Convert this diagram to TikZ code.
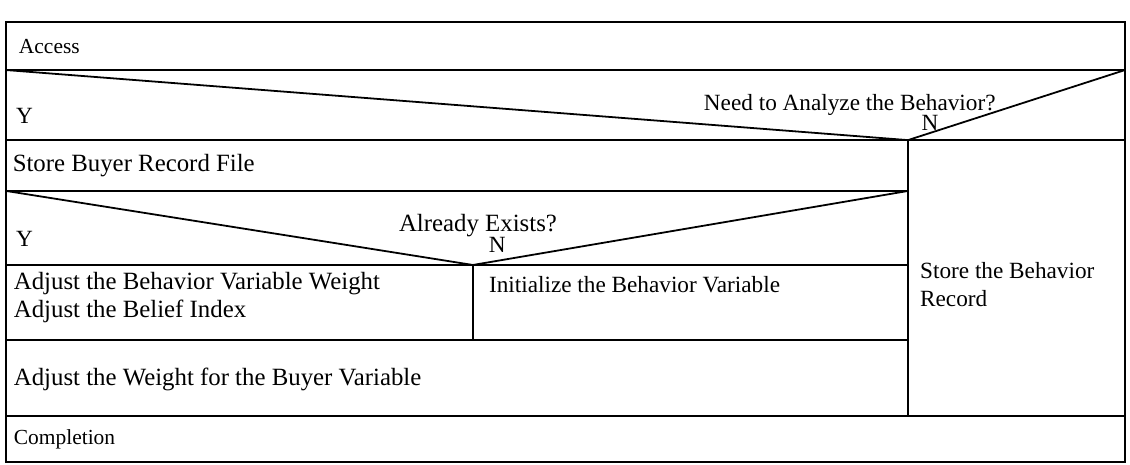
\documentclass[tikz,border=0pt]{standalone}
\usepackage{fontspec}
\setmainfont{Liberation Serif}

\begin{document}
\begin{tikzpicture}[
    line width=0.9pt,
    cell/.style={anchor=west, inner sep=0pt, align=left},
    bigtext/.style={cell, font=\fontsize{12.5}{14}\selectfont},
    midtext/.style={cell, font=\fontsize{11.7}{14}\selectfont},
    smalltext/.style={cell, font=\fontsize{10.8}{12}\selectfont},
    mark label/.style={inner sep=0pt, font=\fontsize{11.7}{14}\selectfont}
  ]
    \useasboundingbox (0, 0) rectangle (20, 8.23);

    % outer frame and full-width rows
    \draw (0.11, 0.05) rectangle (19.91, 7.84);
    \draw (0.11, 6.99) -- (19.91, 6.99);
    \draw (0.11, 5.75) -- (19.91, 5.75);
    \draw (0.11, 0.87) -- (19.91, 0.87);

    % first decision
    \draw (0.11, 6.99) -- (16.07, 5.75) -- (19.91, 6.99);

    % right column
    \draw (16.07, 5.75) -- (16.07, 0.87);

    % second decision and its branches
    \draw (0.11, 4.85) -- (16.07, 4.85);
    \draw (0.11, 4.85) -- (8.37, 3.54) -- (16.07, 4.85);
    \draw (0.11, 3.54) -- (16.07, 3.54);
    \draw (8.37, 3.54) -- (8.37, 2.21);
    \draw (0.11, 2.21) -- (16.07, 2.21);

    \node[smalltext] (access) at (0.32, 7.41) {Access};

    \node[midtext] (yes1) at (0.27, 6.18) {Y};
    \node[midtext, anchor=center] (analyze) at (15.04, 6.37) {Need to Analyze the Behavior?};
    \node[mark label] (no1) at (16.46, 6.06) {N};

    \node[bigtext] (buyerfile) at (0.21, 5.30) {Store Buyer Record File};

    \node[midtext] (yes2) at (0.27, 4.00) {Y};
    \node[bigtext, anchor=center] (exists) at (8.46, 4.23) {Already Exists?};
    \node[mark label] (no2) at (8.80, 3.90) {N};

    \node[bigtext] (adjust) at (0.23, 2.97) {Adjust the Behavior Variable Weight\\Adjust the Belief Index};
    \node[midtext] (init) at (8.64, 3.20) {Initialize the Behavior Variable};

    \node[bigtext] (weight) at (0.23, 1.52) {Adjust the Weight for the Buyer Variable};

    \node[midtext] (record) at (16.27, 3.20) {Store the Behavior\\Record};

    \node[smalltext] (done) at (0.23, 0.46) {Completion};

  \end{tikzpicture}
\end{document}
